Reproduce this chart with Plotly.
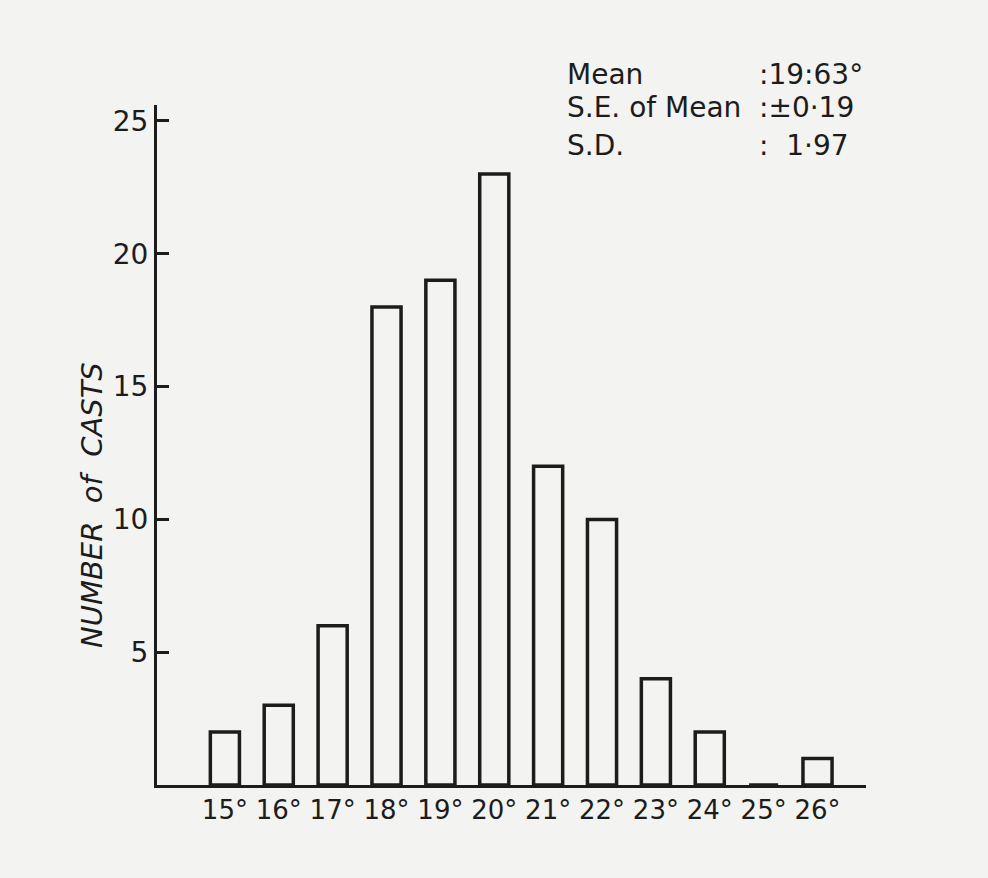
import plotly.graph_objects as go

temps = [15, 16, 17, 18, 19, 20, 21, 22, 23, 24, 25, 26]
tick_labels = ["15°", "16°", "17°", "18°", "19°", "20°", "21°", "22°", "23°", "24°", "25°", "26°"]
counts = [2, 3, 6, 18, 19, 23, 12, 10, 4, 2, 0, 1]
y_ticks = [5, 10, 15, 20, 25]
stat_labels = ["Mean", "S.E. of Mean", "S.D."]
stat_values = [":19:63°", ":±0·19", ":  1·97"]

FONT = "DejaVu Sans"
INK = "#1c1c1c"
BG = "#f3f3f1"

fig = go.Figure()
fig.add_trace(go.Bar(
    x=temps, y=counts,
    marker=dict(color="rgba(255,255,255,0)", line=dict(color=INK, width=3.5)),
    width=0.54,
    showlegend=False,
))

fig.update_layout(
    width=988, height=878,
    margin=dict(l=157, r=122, t=105, b=93),
    paper_bgcolor=BG, plot_bgcolor=BG,
    font=dict(family=FONT, color=INK, size=27),
    xaxis=dict(
        range=[13.74, 26.9], tickvals=temps, ticktext=tick_labels,
        showgrid=False, zeroline=False, showline=True, linecolor=INK, linewidth=3,
        ticks="", tickfont=dict(size=26, family=FONT, color=INK),
    ),
    yaxis=dict(
        range=[0, 25.6], tickvals=y_ticks,
        showgrid=False, zeroline=False, showline=True, linecolor=INK, linewidth=3,
        ticks="inside", ticklen=12, tickwidth=2.5, tickcolor=INK,
        tickfont=dict(size=28, family=FONT, color=INK),
    ),
)

fig.add_annotation(
    text="<i>NUMBER  of  CASTS</i>", textangle=-90, xref="paper", yref="paper",
    x=(92 - 157) / 709, y=(785 - 505) / 680, showarrow=False, xanchor="center", yanchor="middle",
    font=dict(size=29, family=FONT, color=INK),
)

ys = [75, 108, 145]
for lab, val, yp in zip(stat_labels, stat_values, ys):
    fig.add_annotation(text=lab, xref="paper", yref="paper",
                       x=(565 - 157) / 709, y=(785 - yp) / 680, xanchor="left", yanchor="middle",
                       showarrow=False, font=dict(size=28, family=FONT, color=INK))
    fig.add_annotation(text=val, xref="paper", yref="paper",
                       x=(757 - 157) / 709, y=(785 - yp) / 680, xanchor="left", yanchor="middle",
                       showarrow=False, font=dict(size=28, family=FONT, color=INK))

fig.write_html("out.html", config={"displayModeBar": False},
               post_script="document.body.style.margin='0';document.body.style.background='#f3f3f1';")
